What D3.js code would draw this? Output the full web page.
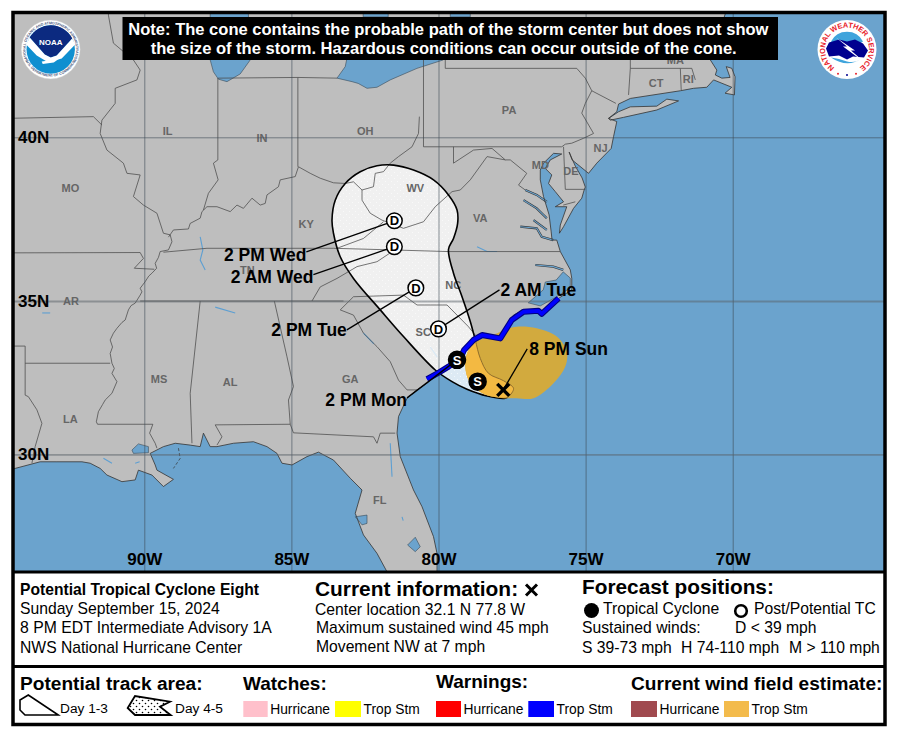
<!DOCTYPE html>
<html>
<head>
<meta charset="utf-8">
<script src="https://cdn.jsdelivr.net/npm/d3@7"></script>
<style>
  body { margin: 0; background: #fff; }
  svg { display: block; font-family: "Liberation Sans", Arial, sans-serif; }
</style>
</head>
<body>
<svg id="chart" width="897" height="736"></svg>
<script>
// graticule
const lonTicks = [-90, -85, -80, -75, -70];
const latTicks = [40, 35, 30];

// land outline as [lon, lat]
const landOutline = [[-70.19,43.8],[-70.19,43.69],[-70.76,42.21],[-70.54,41.92],[-70.59,41.78],[-70.37,41.69],[-70.09,41.71],[-70.22,42.02],[-70.03,41.97],[-69.92,41.73],[-69.94,41.21],[-70.26,41.26],[-70.03,41.43],[-70.65,41.64],[-70.88,41.43],[-71.33,41.40],[-71.78,41.33],[-73.48,41.11],[-73.88,40.95],[-73.94,40.73],[-74.22,40.54],[-73.94,40.45],[-74.05,40.02],[-74.13,39.66],[-74.62,39.21],[-74.90,38.90],[-75.46,39.31],[-75.56,39.55],[-75.35,39.12],[-75.12,38.76],[-75.01,38.48],[-75.05,38.39],[-75.13,38.14],[-75.41,37.83],[-75.75,37.27],[-75.89,37.07],[-75.86,37.32],[-75.64,37.88],[-76.03,37.88],[-75.75,38.03],[-76.03,38.34],[-76.26,38.59],[-76.15,38.85],[-76.37,39.05],[-76.20,39.31],[-75.81,39.49],[-76.09,39.51],[-76.43,39.21],[-76.54,39.00],[-76.54,38.70],[-76.43,38.19],[-76.24,37.63],[-76.17,37.11],[-76.14,36.86],[-75.98,36.86],[-75.86,36.51],[-75.52,35.95],[-75.47,35.69],[-75.47,35.34],[-75.92,35.08],[-76.54,34.60],[-77.11,34.71],[-77.45,34.54],[-77.90,33.84],[-78.52,33.89],[-78.81,33.73],[-79.13,33.40],[-79.26,33.08],[-79.66,32.86],[-80.00,32.66],[-80.39,32.32],[-80.73,32.10],[-81.07,31.83],[-81.36,31.23],[-81.41,30.69],[-81.30,29.92],[-80.85,28.76],[-80.56,28.18],[-80.17,27.14],[-80.05,26.56],[-80.05,25.29],[-81.75,25.29],[-81.75,25.92],[-82.09,26.56],[-82.55,27.20],[-82.83,27.95],[-82.60,28.76],[-83.00,29.17],[-83.57,29.80],[-84.08,30.07],[-84.47,29.92],[-84.98,29.63],[-85.32,29.69],[-85.49,30.03],[-85.83,30.25],[-86.29,30.41],[-86.97,30.36],[-87.53,30.25],[-87.76,30.25],[-87.99,30.69],[-88.10,30.25],[-88.44,30.30],[-88.95,30.36],[-89.35,30.25],[-89.80,30.03],[-89.63,29.63],[-89.57,29.45],[-89.01,29.13],[-89.35,28.88],[-89.74,29.28],[-90.20,29.45],[-90.31,29.11],[-90.76,29.05],[-91.27,29.28],[-91.50,29.51],[-91.84,29.69],[-92.12,29.74],[-92.97,29.74],[-93.54,29.74],[-94.39,29.51],[-94.73,29.39],[-94.73,43.8]];
const longIsland = [[-74.22,40.54],[-73.88,40.73],[-73.48,40.87],[-72.58,40.89],[-72.24,41.09],[-71.84,41.04],[-72.58,40.78],[-73.71,40.57],[-74.16,40.49]];

// lakes and sounds
const lakeMichigan = [[-87.76,43.69],[-87.76,42.21],[-87.65,41.87],[-87.48,41.66],[-87.19,41.59],[-86.74,41.81],[-86.40,42.21],[-86.47,43.69]];
const lakeErie = [[-83.45,41.69],[-83.17,42.02],[-83.11,42.27],[-79.74,42.49],[-79.84,42.21],[-80.73,41.97],[-81.64,41.64],[-82.09,41.43],[-82.43,41.40],[-82.73,41.54],[-82.94,41.59]];
const lakeHuron = [[-82.56,43.69],[-81.71,43.69],[-81.71,43.44],[-82.56,43.44]];
const lakeOntario = [[-79.60,43.69],[-78.92,43.69],[-78.92,43.44],[-79.60,43.44]];
const lakePontchartrain = [[-90.42,30.14],[-90.20,30.34],[-89.86,30.25],[-89.86,30.05],[-90.37,30.03]];
const lakeOkeechobee = [[-81.05,26.85],[-80.79,27.12],[-80.62,26.79],[-80.79,26.62]];
const tampaBay = [[-82.83,27.83],[-82.43,27.89],[-82.43,27.60],[-82.60,27.55],[-82.73,27.72]];
const pamlicoSound = [[-75.76,35.89],[-75.52,35.70],[-75.52,35.40],[-76.00,35.12],[-76.54,34.84],[-76.95,34.94],[-76.44,35.34],[-76.37,35.58],[-76.00,35.64]];

// tidal rivers with a dark edge
const potomacTidal = [[-77.05,38.39],[-76.66,38.24],[-76.32,38.03]];
const rappahannock = [[-77.11,38.08],[-76.66,37.83],[-76.32,37.53]];
const yorkRiver = [[-76.77,37.47],[-76.32,37.17]];
const jamesRiver = [[-77.22,37.27],[-76.66,37.22],[-76.49,36.96],[-76.10,36.86]];
const albemarleSound = [[-76.71,36.10],[-76.10,36.05],[-75.76,35.95]];

// thin blue inland water
const kentuckyLake = [[-88.10,36.96],[-88.01,36.56],[-88.10,36.25],[-87.93,35.95]];
const kerrLake = [[-78.69,36.66],[-78.35,36.51],[-78.01,36.51]];
const tennesseeRiver = [[-87.59,34.80],[-86.91,34.61]];
const arkansasWater = [[-93.47,34.61],[-93.20,34.61]];
const atchafalaya = [[-91.39,29.86],[-91.10,29.69]];
const vermilionBay = [[-90.31,29.69],[-90.16,29.74]];
const stJohns = [[-81.64,30.36],[-81.58,29.22]];
const kissimmee = [[-81.24,27.83],[-81.20,27.70]];
const clarkHill = [[-82.55,33.95],[-82.20,33.60]];
const lakeMarion = [[-80.28,33.50],[-80.04,33.17]];
const chandeleur = [[-88.84,30.20],[-88.78,29.86],[-89.01,29.51]];

// rivers and state lines
const mississippiRiver = [[-91.22,43.69],[-91.22,43.49],[-91.05,42.69],[-90.37,42.21],[-90.14,41.92],[-90.25,41.64],[-90.99,41.40],[-90.99,40.97],[-91.44,40.49],[-91.50,40.11],[-91.27,39.61],[-90.71,39.21],[-90.59,38.90],[-90.14,38.85],[-90.37,38.19],[-90.03,37.93],[-89.57,37.68],[-89.35,37.07],[-89.12,37.02],[-89.06,36.81],[-89.18,36.56],[-89.46,36.51],[-89.52,36.33],[-89.63,36.15],[-89.58,36.00],[-89.74,35.85],[-89.85,35.76],[-89.97,35.59],[-90.14,35.39],[-90.08,35.28],[-90.14,35.18],[-90.31,34.93],[-90.45,34.85],[-90.54,34.71],[-90.65,34.38],[-90.76,34.30],[-90.93,34.11],[-91.05,33.95],[-91.16,33.73],[-91.08,33.50],[-91.16,33.29],[-91.10,32.97],[-91.02,32.80],[-91.10,32.64],[-90.93,32.37],[-91.10,31.99],[-91.33,31.77],[-91.42,31.62],[-91.56,31.39],[-91.63,31.06],[-91.59,30.98],[-89.71,30.98],[-89.82,30.69],[-89.63,30.36],[-89.57,30.20]];
const ohioRiver = [[-80.65,40.59],[-80.68,40.11],[-80.90,39.71],[-81.36,39.41],[-81.64,39.21],[-81.87,38.95],[-82.15,38.90],[-82.21,38.49],[-82.60,38.39],[-82.89,38.64],[-83.17,38.59],[-83.57,38.61],[-84.02,38.75],[-84.36,38.90],[-84.76,39.10],[-84.87,38.80],[-85.38,38.70],[-85.44,38.49],[-85.83,38.24],[-85.89,37.98],[-86.06,37.93],[-86.34,38.14],[-86.63,37.83],[-86.85,37.93],[-87.08,37.73],[-87.53,37.88],[-87.87,37.88],[-88.04,37.73],[-88.10,37.53],[-88.44,37.37],[-88.50,37.20],[-89.01,37.17],[-89.18,36.95]];
const illinoisIndiana = [[-87.50,41.69],[-87.50,39.31],[-87.65,39.21],[-87.49,38.70],[-87.82,38.29],[-87.99,37.78]];
const ohioIndiana = [[-84.78,41.71],[-84.78,39.10]];
const michiganLine = [[-87.50,41.69],[-84.78,41.71],[-83.45,41.69]];
const missouriNorth = [[-94.73,40.54],[-91.73,40.59],[-91.44,40.35]];
const missouriSouth = [[-94.73,36.47],[-90.14,36.48],[-90.03,36.30],[-90.34,36.00],[-89.66,35.97]];
const kentuckyTennessee = [[-89.35,36.49],[-87.87,36.61],[-83.57,36.61],[-81.58,36.56],[-79.66,36.51],[-75.86,36.51]];
const kentuckyVirginia = [[-81.87,37.42],[-82.55,36.91],[-83.45,36.61]];
const bigSandy = [[-82.60,38.39],[-82.60,38.08],[-82.32,37.68],[-81.92,37.47]];
const westVirginiaEast = [[-81.92,37.47],[-81.19,37.22],[-80.51,37.42],[-80.11,37.88],[-79.54,38.34],[-79.26,38.39],[-78.92,38.70],[-78.35,39.41],[-77.73,39.31]];
const westVirginiaMaryland = [[-79.49,39.71],[-79.49,39.21],[-78.81,39.61],[-78.18,39.66],[-77.73,39.31]];
const potomacUpper = [[-77.73,39.31],[-77.56,39.31],[-77.00,38.90],[-77.28,38.54],[-77.05,38.39]];
const pennsylvaniaWest = [[-80.51,42.35],[-80.51,39.71],[-75.81,39.71]];
const erieTriangle = [[-79.77,42.21],[-79.77,41.97],[-75.30,41.97]];
const delawareRiver = [[-75.30,41.97],[-75.01,41.69],[-74.79,41.33],[-75.01,40.97],[-75.13,40.69],[-74.73,40.11],[-75.07,39.97],[-75.47,39.82],[-75.69,39.79],[-75.81,39.71]];
const newYorkJersey = [[-74.79,41.33],[-73.97,40.97]];
const delawareLines = [[-75.75,39.71],[-75.69,38.41],[-75.01,38.41]];
const newYorkConnecticut = [[-73.48,42.21],[-73.48,41.97],[-73.54,41.21]];
const massachusettsSouth = [[-73.48,41.97],[-71.78,41.97],[-71.39,41.97],[-71.27,41.64]];
const connecticutRhode = [[-71.78,41.97],[-71.75,41.35]];
const easternShore = [[-75.76,37.93],[-75.35,38.03]];
const tennesseeNorthCarolina = [[-81.64,36.47],[-82.09,36.20],[-82.77,36.05],[-83.45,35.69],[-84.02,35.43],[-84.30,35.00]];
const thirtyFiveLine = [[-90.14,35.00],[-83.23,35.00]];
const northSouthCarolina = [[-83.34,34.71],[-82.89,35.13],[-81.19,35.18],[-80.73,34.87],[-79.71,34.87],[-78.98,34.16],[-78.75,33.89]];
const georgiaCarolina = [[-83.34,34.71],[-82.89,34.54],[-82.55,33.95],[-82.09,33.51],[-81.64,33.02],[-81.36,32.42],[-81.07,32.10],[-80.73,32.10]];
const alabamaMississippi = [[-88.10,35.00],[-88.44,31.99],[-88.38,30.36]];
const alabamaGeorgia = [[-85.58,35.00],[-85.15,33.18],[-84.93,32.21],[-85.10,31.77],[-85.04,30.98]];
const floridaAlabama = [[-85.04,30.98],[-87.59,30.96],[-87.36,30.57],[-87.53,30.30]];
const floridaGeorgia = [[-85.04,30.98],[-84.93,30.70],[-82.21,30.57],[-82.09,30.36],[-81.98,30.69],[-81.47,30.69]];
const arkansasLouisiana = [[-94.05,32.97],[-91.16,32.97]];
const texasLine = [[-94.73,33.53],[-94.05,33.53],[-94.05,31.93],[-93.94,31.88],[-93.65,31.45],[-93.48,31.01],[-93.71,30.25],[-93.82,29.69]];

const stateNames = ['IL','IN','OH','MO','KY','WV','VA','PA','TN','NC','SC','AR','MS','AL','GA','LA','FL','NJ','DE','MD','CT','RI','MA'];
const stateLons = [-89.21,-86.00,-82.49,-92.51,-84.50,-80.79,-78.58,-77.60,-86.50,-79.50,-80.52,-92.49,-89.50,-87.08,-83.00,-92.51,-82.00,-74.49,-75.50,-76.54,-72.60,-71.51,-71.95];
const stateLats = [40.18,39.98,40.18,38.45,37.35,38.45,37.53,40.78,35.95,35.49,33.99,35.00,32.46,32.34,32.46,31.15,28.42,39.67,38.97,39.15,41.55,41.67,42.21];

// forecast cone and current wind field
const coneOutline = [[-77.73,31.83],[-78.35,31.90],[-79.03,32.12],[-79.54,32.37],[-80.11,32.75],[-81.19,33.84],[-81.98,34.71],[-82.89,35.69],[-83.34,36.35],[-83.57,37.07],[-83.62,37.47],[-83.51,38.08],[-83.17,38.59],[-82.66,38.95],[-82.09,39.13],[-81.53,39.15],[-80.85,39.00],[-80.17,38.70],[-79.66,38.24],[-79.37,37.78],[-79.35,37.37],[-79.49,36.91],[-79.66,36.58],[-79.49,35.85],[-79.20,35.13],[-78.92,34.33],[-78.75,33.73],[-78.58,33.13],[-78.30,32.64],[-77.79,32.40],[-77.45,32.15],[-77.62,31.88]];
const windField = [[-79.09,32.86],[-79.03,33.29],[-78.75,33.67],[-78.47,33.78],[-78.01,33.95],[-77.68,34.08],[-77.34,34.16],[-76.66,34.11],[-75.98,33.84],[-75.64,33.35],[-75.69,32.86],[-76.09,32.32],[-76.77,31.83],[-77.34,31.83],[-77.73,31.83],[-78.35,31.93],[-78.75,32.15],[-78.98,32.42]];
const stormWarning = [[-80.39,32.45],[-80.00,32.66],[-79.66,32.86],[-79.26,33.13],[-79.13,33.40],[-78.81,33.73],[-78.52,33.89],[-77.90,33.78],[-77.51,34.38],[-77.11,34.65],[-76.60,34.68],[-76.49,34.58],[-75.92,35.08]];

// track
const trackLons = [-77.8,-78.67,-79.37,-80.0,-80.77,-81.5,-81.5];
const trackLats = [32.1,32.37,33.08,34.09,35.40,36.66,37.45];
const trackTypes = ['X','S','S','D','D','D','D'];
const trackLabels = ['8 PM Sun','','2 PM Mon','2 AM Tue','2 PM Tue','2 AM Wed','2 PM Wed'];

// leader ends and label anchors, in pixels from the track point
const leaderDx = [24,0,-50,61,-69,-81,-88];
const leaderDy = [-41,0,38,-39,42,28,31];
const labelDx = [26,0,-50,62,-69,-81,-88];
const labelDy = [-35,0,46,-33,48,36,40];
const labelAnchor = ['start','start','end','start','end','end','end'];

const riverGroups = [potomacTidal, rappahannock, yorkRiver, jamesRiver, albemarleSound];
const streamGroups = [kentuckyLake, kerrLake, tennesseeRiver, arkansasWater, atchafalaya, vermilionBay, stJohns, kissimmee, clarkHill, lakeMarion];
const waterBodies = [lakeMichigan, lakeErie, lakeHuron, lakeOntario, lakePontchartrain, lakeOkeechobee, tampaBay, pamlicoSound];
const borderLines = [mississippiRiver, ohioRiver, illinoisIndiana, ohioIndiana, michiganLine, missouriNorth, missouriSouth, kentuckyTennessee, kentuckyVirginia, bigSandy, westVirginiaEast, westVirginiaMaryland, potomacUpper, pennsylvaniaWest, erieTriangle, delawareRiver, newYorkJersey, delawareLines, newYorkConnecticut, massachusettsSouth, connecticutRhode, easternShore, tennesseeNorthCarolina, thirtyFiveLine, northSouthCarolina, georgiaCarolina, alabamaMississippi, alabamaGeorgia, floridaAlabama, floridaGeorgia, arkansasLouisiana, texasLine];

const svg = d3.select('#chart');

const map = { left: 14, top: 13, right: 884, bottom: 571 };

const x = d3.scaleLinear().domain([-90, -70]).range([144.3, 732.7]);
// the map projection stretches with latitude, so one slope per band
const y = d3.scaleLinear().domain([25, 30, 35, 40, 45]).range([598.3, 454.3, 301, 137.3, -37.7]);

const line = d3.line().x(d => x(d[0])).y(d => y(d[1]));
const closed = d3.line().x(d => x(d[0])).y(d => y(d[1])).curve(d3.curveLinearClosed);
const smoothClosed = d3.line().x(d => x(d[0])).y(d => y(d[1])).curve(d3.curveCatmullRomClosed.alpha(0.5));

const OCEAN = '#6ba3cd';
const LAND = '#bebebe';
const BORDER = '#4a4a4a';

const defs = svg.append('defs');
defs.append('clipPath').attr('id', 'map-clip').append('rect')
  .attr('x', map.left).attr('y', map.top)
  .attr('width', map.right - map.left).attr('height', map.bottom - map.top);
defs.append('clipPath').attr('id', 'cone-clip').append('path').attr('d', smoothClosed(coneOutline));
defs.append('clipPath').attr('id', 'wind-clip').append('path').attr('d', smoothClosed(windField));

let conePattern = defs.append('pattern').attr('id', 'cone-dots')
  .attr('width', 6).attr('height', 6).attr('patternUnits', 'userSpaceOnUse');
conePattern.append('circle').attr('cx', 1.5).attr('cy', 1.5).attr('r', 0.5).attr('fill', '#fff');
conePattern.append('circle').attr('cx', 4.5).attr('cy', 4.5).attr('r', 0.5).attr('fill', '#fff');

let legendPattern = defs.append('pattern').attr('id', 'legend-dots')
  .attr('width', 6).attr('height', 6).attr('patternUnits', 'userSpaceOnUse');
legendPattern.append('rect').attr('width', 6).attr('height', 6).attr('fill', '#fff');
legendPattern.append('circle').attr('cx', 1.5).attr('cy', 1.5).attr('r', 0.8).attr('fill', '#000');
legendPattern.append('circle').attr('cx', 4.5).attr('cy', 4.5).attr('r', 0.8).attr('fill', '#000');

const mapLayer = svg.append('g').attr('clip-path', 'url(#map-clip)');

mapLayer.append('rect')
  .attr('x', map.left).attr('y', map.top)
  .attr('width', map.right - map.left).attr('height', map.bottom - map.top)
  .attr('fill', OCEAN);

// land and water first, the cone veils them
mapLayer.selectAll('path.land').data([landOutline, longIsland]).join('path')
  .attr('class', 'land').attr('d', closed).attr('fill', LAND);
mapLayer.selectAll('path.water').data(waterBodies).join('path')
  .attr('class', 'water').attr('d', closed).attr('fill', OCEAN);
mapLayer.selectAll('path.tidaledge').data(riverGroups).join('path')
  .attr('class', 'tidaledge').attr('d', line)
  .attr('fill', 'none').attr('stroke', '#333').attr('stroke-width', 2.2);
mapLayer.selectAll('path.tidal').data(riverGroups).join('path')
  .attr('class', 'tidal').attr('d', line)
  .attr('fill', 'none').attr('stroke', OCEAN).attr('stroke-width', 1.1);
mapLayer.selectAll('path.stream').data(streamGroups).join('path')
  .attr('class', 'stream').attr('d', line)
  .attr('fill', 'none').attr('stroke', '#5d9fd2').attr('stroke-width', 1.1);

mapLayer.append('path').attr('d', smoothClosed(coneOutline))
  .attr('fill', '#fff').attr('fill-opacity', 0.77);
mapLayer.append('path').attr('d', smoothClosed(coneOutline))
  .attr('fill', 'url(#cone-dots)').attr('fill-opacity', 0.8);

// outlines above the cone so they stay readable inside it
mapLayer.selectAll('path.coast').data([landOutline, longIsland]).join('path')
  .attr('class', 'coast').attr('d', closed)
  .attr('fill', 'none').attr('stroke', '#333').attr('stroke-width', 0.8);
mapLayer.selectAll('path.shore').data(waterBodies).join('path')
  .attr('class', 'shore').attr('d', closed)
  .attr('fill', 'none').attr('stroke', '#3a4a55').attr('stroke-width', 0.6);
mapLayer.selectAll('path.border').data(borderLines).join('path')
  .attr('class', 'border').attr('d', line)
  .attr('fill', 'none').attr('stroke', BORDER).attr('stroke-width', 0.75);
mapLayer.append('path').attr('d', line(chandeleur))
  .attr('fill', 'none').attr('stroke', '#333').attr('stroke-width', 0.7).attr('stroke-dasharray', '3,2');

mapLayer.selectAll('text.state')
  .data(stateNames.map((name, i) => ({ name, lon: stateLons[i], lat: stateLats[i] })))
  .join('text')
  .attr('class', 'state')
  .attr('x', d => x(d.lon)).attr('y', d => y(d.lat)).attr('dy', '0.35em')
  .attr('text-anchor', 'middle').attr('font-size', 11).attr('font-weight', 'bold')
  .attr('fill', '#666').text(d => d.name);

// graticule through the axes
const lonAxis = d3.axisBottom(x).tickValues(lonTicks)
  .tickSizeInner(-(map.bottom - map.top)).tickSizeOuter(0).tickPadding(-18)
  .tickFormat(d => Math.abs(d) + 'W');
const lonG = mapLayer.append('g').attr('transform', `translate(0,${map.bottom})`).call(lonAxis);
const latAxis = d3.axisLeft(y).tickValues(latTicks)
  .tickSizeInner(-(map.right - map.left)).tickSizeOuter(0)
  .tickFormat(d => d + 'N');
const latG = mapLayer.append('g').attr('transform', `translate(${map.left},0)`).call(latAxis);
lonG.select('.domain').remove();
latG.select('.domain').remove();
lonG.selectAll('.tick line').attr('stroke', '#3c4a55').attr('stroke-opacity', 0.75).attr('stroke-width', 0.8);
latG.selectAll('.tick line')
  .attr('stroke', d => d === 40 ? '#3c4a55' : '#5a6268')
  .attr('stroke-opacity', d => d === 40 ? 0.75 : 0.5)
  .attr('stroke-width', d => d === 40 ? 0.8 : 1.8);
lonG.selectAll('.tick text').attr('fill', '#000').attr('font-size', 17).attr('font-weight', 'bold')
  .attr('font-family', '"Liberation Sans", Arial, sans-serif');
latG.selectAll('.tick text').attr('fill', '#000').attr('font-size', 17).attr('font-weight', 'bold')
  .attr('font-family', '"Liberation Sans", Arial, sans-serif')
  .attr('text-anchor', 'start').attr('x', 4);

mapLayer.append('path').attr('d', smoothClosed(coneOutline))
  .attr('fill', 'none').attr('stroke', '#000').attr('stroke-width', 1.6);

// wind field is darker outside the cone
mapLayer.append('path').attr('d', smoothClosed(windField)).attr('fill', '#d2aa3e');
mapLayer.append('g').attr('clip-path', 'url(#cone-clip)')
  .append('path').attr('d', smoothClosed(windField)).attr('fill', '#f3b942');
mapLayer.append('g').attr('clip-path', 'url(#wind-clip)')
  .append('path').attr('d', smoothClosed(coneOutline))
  .attr('fill', 'none').attr('stroke', '#8f6d2c').attr('stroke-width', 1);

mapLayer.append('path').attr('d', line(stormWarning))
  .attr('fill', 'none').attr('stroke', '#000080').attr('stroke-width', 6)
  .attr('stroke-linejoin', 'round');
mapLayer.append('path').attr('d', line(stormWarning))
  .attr('fill', 'none').attr('stroke', '#0000ff').attr('stroke-width', 3.8)
  .attr('stroke-linejoin', 'round');

const track = trackTypes.map((type, i) => ({
  type, lon: trackLons[i], lat: trackLats[i], label: trackLabels[i],
  leaderDx: leaderDx[i], leaderDy: leaderDy[i], labelDx: labelDx[i], labelDy: labelDy[i], anchor: labelAnchor[i]
}));

mapLayer.selectAll('line.leader').data(track.filter(d => d.label)).join('line')
  .attr('class', 'leader')
  .attr('x1', d => x(d.lon)).attr('y1', d => y(d.lat))
  .attr('x2', d => x(d.lon) + d.leaderDx).attr('y2', d => y(d.lat) + d.leaderDy)
  .attr('stroke', '#000').attr('stroke-width', 1.3);

mapLayer.selectAll('text.when').data(track.filter(d => d.label)).join('text')
  .attr('class', 'when')
  .attr('x', d => x(d.lon) + d.labelDx).attr('y', d => y(d.lat) + d.labelDy)
  .attr('text-anchor', d => d.anchor).attr('font-size', 17.5).attr('font-weight', 'bold')
  .text(d => d.label);

const markers = mapLayer.selectAll('g.point').data(track.filter(d => d.type !== 'X')).join('g')
  .attr('class', 'point')
  .attr('transform', d => `translate(${x(d.lon)},${y(d.lat)})`);
markers.append('circle').attr('r', d => d.type === 'S' ? 8.5 : 7.8)
  .attr('fill', d => d.type === 'S' ? '#000' : '#fff')
  .attr('stroke', '#000').attr('stroke-width', 1.5);
markers.append('text').attr('text-anchor', 'middle').attr('dy', '0.36em')
  .attr('font-size', 13).attr('font-weight', 'bold')
  .attr('fill', d => d.type === 'S' ? '#fff' : '#000').text(d => d.type);

// current position
const current = track[0];
const cross = mapLayer.append('g').attr('transform', `translate(${x(current.lon)},${y(current.lat)})`);
cross.append('path').attr('d', 'M-6,-6L6,6M6,-6L-6,6')
  .attr('stroke', '#000').attr('stroke-width', 3.4).attr('fill', 'none');

// note box on top of the map
const note = svg.append('g');
note.append('rect').attr('x', 122.5).attr('y', 17).attr('width', 655.5).attr('height', 43).attr('fill', '#000');
note.append('text').attr('x', 128.3).attr('y', 35).attr('font-size', 16.55).attr('font-weight', 'bold')
  .attr('fill', '#fff').text('Note: The cone contains the probable path of the storm center but does not show');
note.append('text').attr('x', 150.7).attr('y', 53.5).attr('font-size', 16.55).attr('font-weight', 'bold')
  .attr('fill', '#fff').text('the size of the storm. Hazardous conditions can occur outside of the cone.');

function arcPath(r, gap) {
  const a = gap * Math.PI / 180;
  const px = r * Math.sin(a);
  const py = r * Math.cos(a);
  return `M${-px},${py}A${r},${r} 0 1 1 ${px},${py}`;
}

// NOAA badge
const noaa = svg.append('g').attr('transform', 'translate(50.7,49.5)');
noaa.append('circle').attr('r', 29.5).attr('fill', '#fff').attr('stroke', '#c8c8c8').attr('stroke-width', 0.5);
noaa.append('path').attr('id', 'noaa-top').attr('d', arcPath(25.3, 62)).attr('fill', 'none');
noaa.append('path').attr('id', 'noaa-bottom').attr('d', 'M-26.5,7A27.5,27.5 0 0 0 26.5,7').attr('fill', 'none');
noaa.append('text').attr('font-size', 3.6).attr('font-weight', 'bold').attr('fill', '#4a5a80')
  .append('textPath').attr('href', '#noaa-top').attr('startOffset', '50%').attr('text-anchor', 'middle')
  .text('NATIONAL OCEANIC AND ATMOSPHERIC ADMINISTRATION');
noaa.append('text').attr('font-size', 3.6).attr('font-weight', 'bold').attr('fill', '#4a5a80')
  .append('textPath').attr('href', '#noaa-bottom').attr('startOffset', '50%').attr('text-anchor', 'middle')
  .text('U.S. DEPARTMENT OF COMMERCE');
noaa.append('circle').attr('r', 24.2).attr('fill', '#0f8fd0');
noaa.append('path').attr('d', 'M-21,-12A24.2,24.2 0 0 1 21.5,-11L6,6L0,8L-6,5Z').attr('fill', '#0c2a80');
noaa.append('path').attr('d', 'M-24.5,-5L-21,-12L-6,5L0,8L6,6L21.5,-11L24.5,-5L11,9L4,11L-4,12L-14,6Z').attr('fill', '#fff');
noaa.append('path').attr('d', 'M-9,12L8,9.5L3,13L-8,14.5Z').attr('fill', '#fff');
noaa.append('text').attr('y', -5).attr('text-anchor', 'middle').attr('font-size', 8).attr('font-weight', 'bold')
  .attr('fill', '#fff').text('NOAA');

// NWS badge
const nws = svg.append('g').attr('transform', 'translate(847,49.5)');
nws.append('circle').attr('r', 29.5).attr('fill', '#fff');
nws.append('path').attr('id', 'nws-top').attr('d', arcPath(22, 26)).attr('fill', 'none');
nws.append('text').attr('font-size', 7.4).attr('font-weight', 'bold').attr('fill', '#e8212b')
  .append('textPath').attr('href', '#nws-top').attr('startOffset', '50%').attr('text-anchor', 'middle')
  .text('NATIONAL WEATHER SERVICE');
nws.append('circle').attr('r', 21).attr('fill', '#fff');
nws.append('path').attr('d', 'M-16,-8A18,18 0 0 1 16,-8L8,-3L-8,-3Z').attr('fill', '#3fa4dc');
nws.append('path').attr('d', 'M-21,-1L-18,-7L-8,-10L0,-8L8,-10L16,-6L21,1L17,8L6,7L0,10L-8,6L-18,7Z').attr('fill', '#00008f');
nws.append('path').attr('d', 'M-16,8Q0,19 15,9Q8,14 0,12Q-8,9 -16,8Z').attr('fill', '#3fa4dc');
nws.append('path').attr('d', 'M-11,-12L0,-3L-4,-3L19,14L4,1L8,1Z').attr('fill', '#fff');
[[-9, '#e8212b'], [0, '#00008f'], [9, '#e8212b']].forEach(s => {
  nws.append('circle').attr('cx', s[0]).attr('cy', 25.5 - Math.abs(s[0]) * 0.15).attr('r', 1).attr('fill', s[1]);
});

// bottom panel text
function put(txt, px, py, size, bold) {
  return svg.append('text').attr('x', px).attr('y', py).attr('font-size', size)
    .attr('font-weight', bold ? 'bold' : 'normal').attr('fill', '#000').text(txt);
}

put('Potential Tropical Cyclone Eight', 20, 595, 15.65, true);
put('Sunday September 15, 2024', 20, 614, 15.7);
put('8 PM EDT Intermediate Advisory 1A', 20, 633, 15.75);
put('NWS National Hurricane Center', 20, 653, 15.7);

put('Current information:', 315, 596, 20.9, true);
svg.append('path').attr('d', 'M526,584.5L537,595.5M537,584.5L526,595.5')
  .attr('stroke', '#000').attr('stroke-width', 3).attr('fill', 'none');
put('Center location 32.1 N 77.8 W', 315, 615, 15.7);
put('Maximum sustained wind 45 mph', 316, 633, 15.7);
put('Movement NW at 7 mph', 316, 652, 15.7);

put('Forecast positions:', 582, 594, 20.8, true);
svg.append('circle').attr('cx', 591.5).attr('cy', 610.5).attr('r', 7.5).attr('fill', '#000');
put('Tropical Cyclone', 603, 614, 15.7);
svg.append('circle').attr('cx', 741).attr('cy', 611).attr('r', 5.8).attr('fill', '#fff')
  .attr('stroke', '#000').attr('stroke-width', 2.6);
put('Post/Potential TC', 754, 614, 15.7);
put('Sustained winds:', 582, 633, 15.7);
put('D < 39 mph', 735, 633, 15.7);
put('S 39-73 mph', 582, 652.5, 15.7);
put('H 74-110 mph', 681, 652.5, 15.7);
put('M > 110 mph', 789, 652.5, 15.7);

put('Potential track area:', 20, 690, 19.1, true);
put('Watches:', 243, 690, 19, true);
put('Warnings:', 436, 688, 19, true);
put('Current wind field estimate:', 631, 690, 19.1, true);

svg.append('path').attr('d', 'M20,700L28.3,695L58.3,715L25,715L20,710Z')
  .attr('fill', '#fff').attr('stroke', '#000').attr('stroke-width', 1.6);
put('Day 1-3', 60, 713, 13.7);
svg.append('path').attr('d', 'M127.7,708L135,696L170,701.7L160,706.7L170.7,715L135,715Z')
  .attr('fill', 'url(#legend-dots)').attr('stroke', '#000').attr('stroke-width', 1.8);
put('Day 4-5', 175, 713, 13.7);

const swatches = [
  { fill: '#ffc0cb', from: 243.3, to: 267.7, label: 'Hurricane' },
  { fill: '#ffff00', from: 335, to: 361, label: 'Trop Stm' },
  { fill: '#ff0000', from: 436, to: 461, label: 'Hurricane' },
  { fill: '#0000ff', from: 528.3, to: 554, label: 'Trop Stm' },
  { fill: '#a04a4f', from: 631, to: 657, label: 'Hurricane' },
  { fill: '#f3bb4c', from: 724, to: 749, label: 'Trop Stm' }
];
svg.selectAll('rect.swatch').data(swatches).join('rect')
  .attr('class', 'swatch')
  .attr('x', d => d.from).attr('y', 701).attr('width', d => d.to - d.from).attr('height', 16)
  .attr('fill', d => d.fill);
swatches.forEach(d => put(d.label, d.to + 2.5, 714, 13.8));

// black panel frame
const frame = svg.append('g').attr('fill', 'none').attr('stroke', '#000');
frame.append('rect').attr('x', 13).attr('y', 12.5).attr('width', 872).attr('height', 712).attr('stroke-width', 3.5);
frame.append('line').attr('x1', 13).attr('x2', 885).attr('y1', map.bottom + 1).attr('y2', map.bottom + 1).attr('stroke-width', 3);
frame.append('line').attr('x1', 13).attr('x2', 885).attr('y1', 666.5).attr('y2', 666.5).attr('stroke-width', 3);
</script>
</body>
</html>
